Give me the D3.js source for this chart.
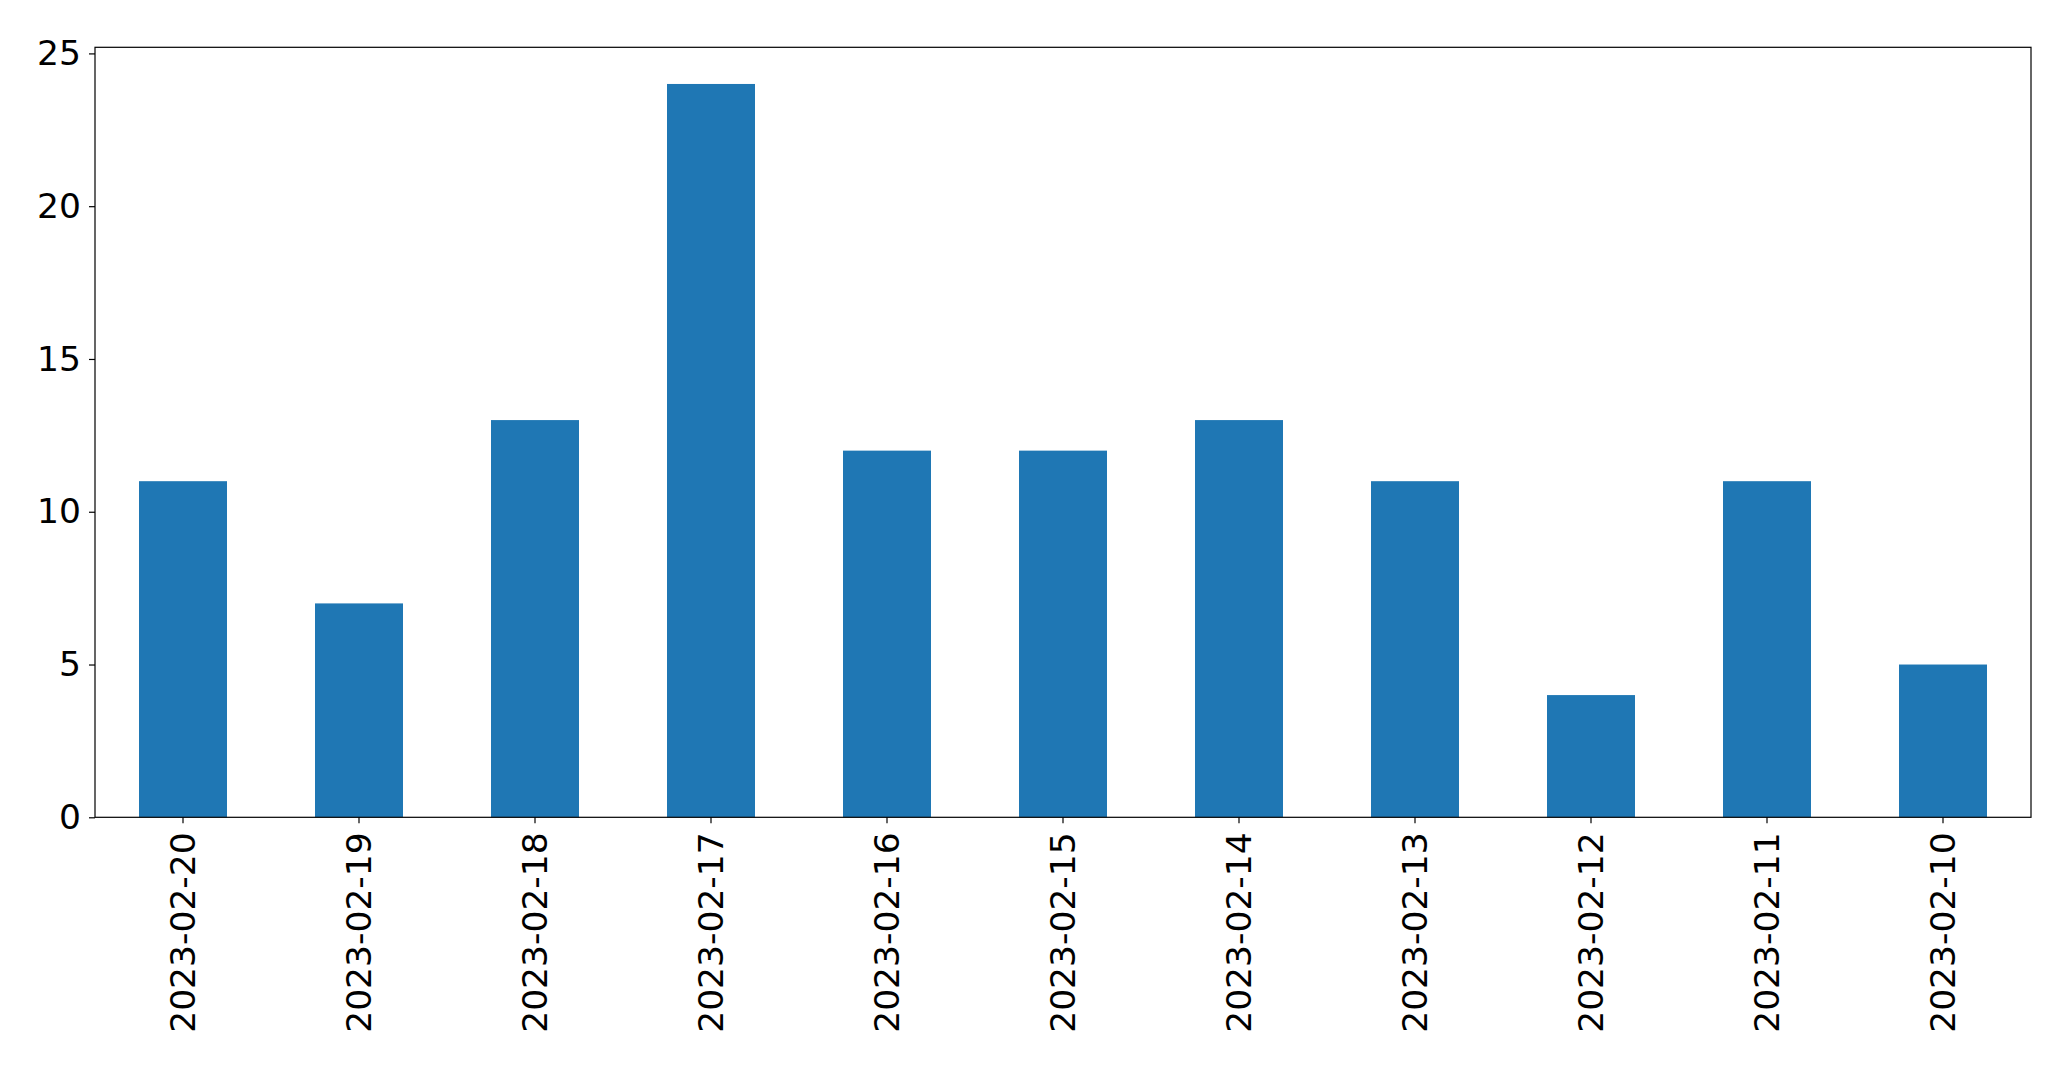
<!DOCTYPE html>
<html><head><meta charset="utf-8">
<script src="https://cdn.jsdelivr.net/npm/d3@7"></script>
<style>body{margin:0;background:#fff}svg{display:block}</style>
</head><body>
<script>
const categories = ["2023-02-20","2023-02-19","2023-02-18","2023-02-17","2023-02-16","2023-02-15","2023-02-14","2023-02-13","2023-02-12","2023-02-11","2023-02-10"];
const values = [11, 7, 13, 24, 12, 12, 13, 11, 4, 11, 5];
const yTicks = [0, 5, 10, 15, 20, 25];

const W = 2071, H = 1069;
const L = 95, R = 2031, T = 47.3, B = 817.3;
const fs = 34.5;
const svg = d3.select("body").append("svg").attr("width", W).attr("height", H);

const x = d3.scaleBand().domain(categories).range([L, R]).paddingInner(0.5).paddingOuter(0.25);
const y = d3.scaleLinear().domain([0, 25.2]).range([B, T]);

svg.append("g").selectAll("rect").data(values).join("rect")
  .attr("x", (d, i) => x(categories[i]))
  .attr("width", x.bandwidth())
  .attr("y", d => y(d))
  .attr("height", d => y(0) - y(d))
  .attr("fill", "#1f77b4");

const ya = svg.append("g").attr("transform", `translate(${L},0)`)
  .call(d3.axisLeft(y).tickValues(yTicks).tickSize(6).tickPadding(8).tickSizeOuter(0));
ya.select(".domain").remove();
ya.selectAll("text").attr("font-family", "DejaVu Sans").attr("font-size", fs).attr("fill", "#000");
ya.selectAll("line").attr("stroke", "#000").attr("stroke-width", 1.2);

const xa = svg.append("g").attr("transform", `translate(0,${B})`)
  .call(d3.axisBottom(x).tickSize(6).tickSizeOuter(0));
xa.select(".domain").remove();
xa.selectAll("line").attr("stroke", "#000").attr("stroke-width", 1.2);
xa.selectAll("text")
  .attr("font-family", "DejaVu Sans").attr("font-size", fs).attr("fill", "#000")
  .attr("transform", "rotate(-90)")
  .attr("text-anchor", "end")
  .attr("x", -15).attr("y", 0).attr("dy", "0.35em");

svg.append("rect").attr("x", L).attr("y", T).attr("width", R - L).attr("height", B - T)
  .attr("fill", "none").attr("stroke", "#000").attr("stroke-width", 1.2);
</script>
</body></html>
